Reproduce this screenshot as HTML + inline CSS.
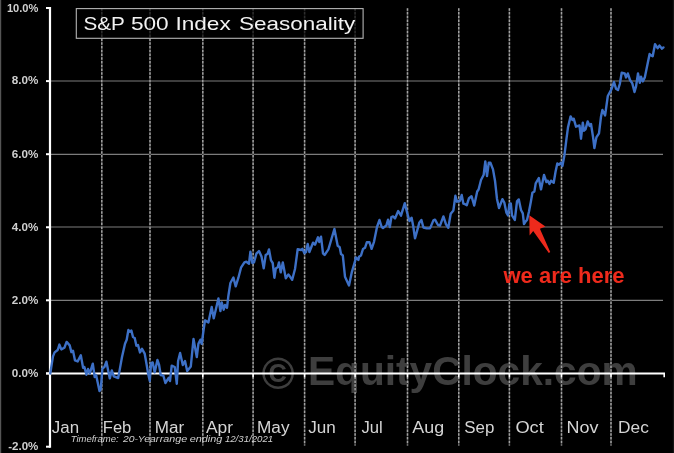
<!DOCTYPE html>
<html><head><meta charset="utf-8"><title>S&amp;P 500 Index Seasonality</title>
<style>
html,body{margin:0;padding:0;background:#000;}
body{width:674px;height:453px;overflow:hidden;font-family:"Liberation Sans",sans-serif;}
svg{display:block;filter:blur(0.45px);}
text{font-family:"Liberation Sans",sans-serif;}
</style></head><body>
<svg width="674" height="453" viewBox="0 0 674 453">
<rect x="0" y="0" width="674" height="453" fill="#000"/>
<rect x="0" y="0" width="1.2" height="453" fill="#555"/>
<rect x="672.8" y="0" width="1.2" height="453" fill="#141414"/>
<text x="261.6" y="388.8" font-size="45" font-weight="bold" fill="#3e3e3e">©</text>
<text x="308" y="385" font-size="40" font-weight="bold" fill="#3e3e3e" textLength="329.6" lengthAdjust="spacingAndGlyphs">EquityClock.com</text>
<line x1="51" y1="81.0" x2="663" y2="81.0" stroke="#7c7c7c" stroke-width="1.1"/>
<line x1="51" y1="154.4" x2="663" y2="154.4" stroke="#7c7c7c" stroke-width="1.1"/>
<line x1="51" y1="227.05" x2="663" y2="227.05" stroke="#7c7c7c" stroke-width="1.1"/>
<line x1="51" y1="300.4" x2="663" y2="300.4" stroke="#7c7c7c" stroke-width="1.1"/>
<line x1="101.8" y1="8.3" x2="101.8" y2="445.5" stroke="#2c2c2c" stroke-width="1.5"/>
<line x1="101.8" y1="8.3" x2="101.8" y2="445.5" stroke="#a2a2a2" stroke-width="1.5" stroke-dasharray="2.5 1.26"/>
<line x1="150.0" y1="8.3" x2="150.0" y2="445.5" stroke="#2c2c2c" stroke-width="1.5"/>
<line x1="150.0" y1="8.3" x2="150.0" y2="445.5" stroke="#a2a2a2" stroke-width="1.5" stroke-dasharray="2.5 1.26"/>
<line x1="202.8" y1="8.3" x2="202.8" y2="445.5" stroke="#2c2c2c" stroke-width="1.5"/>
<line x1="202.8" y1="8.3" x2="202.8" y2="445.5" stroke="#a2a2a2" stroke-width="1.5" stroke-dasharray="2.5 1.26"/>
<line x1="253.1" y1="8.3" x2="253.1" y2="445.5" stroke="#2c2c2c" stroke-width="1.5"/>
<line x1="253.1" y1="8.3" x2="253.1" y2="445.5" stroke="#a2a2a2" stroke-width="1.5" stroke-dasharray="2.5 1.26"/>
<line x1="304.6" y1="8.3" x2="304.6" y2="445.5" stroke="#2c2c2c" stroke-width="1.5"/>
<line x1="304.6" y1="8.3" x2="304.6" y2="445.5" stroke="#a2a2a2" stroke-width="1.5" stroke-dasharray="2.5 1.26"/>
<line x1="355.1" y1="8.3" x2="355.1" y2="445.5" stroke="#2c2c2c" stroke-width="1.5"/>
<line x1="355.1" y1="8.3" x2="355.1" y2="445.5" stroke="#a2a2a2" stroke-width="1.5" stroke-dasharray="2.5 1.26"/>
<line x1="407.5" y1="8.3" x2="407.5" y2="445.5" stroke="#2c2c2c" stroke-width="1.5"/>
<line x1="407.5" y1="8.3" x2="407.5" y2="445.5" stroke="#a2a2a2" stroke-width="1.5" stroke-dasharray="2.5 1.26"/>
<line x1="458.75" y1="8.3" x2="458.75" y2="445.5" stroke="#2c2c2c" stroke-width="1.5"/>
<line x1="458.75" y1="8.3" x2="458.75" y2="445.5" stroke="#a2a2a2" stroke-width="1.5" stroke-dasharray="2.5 1.26"/>
<line x1="509.4" y1="8.3" x2="509.4" y2="445.5" stroke="#2c2c2c" stroke-width="1.5"/>
<line x1="509.4" y1="8.3" x2="509.4" y2="445.5" stroke="#a2a2a2" stroke-width="1.5" stroke-dasharray="2.5 1.26"/>
<line x1="561.5" y1="8.3" x2="561.5" y2="445.5" stroke="#2c2c2c" stroke-width="1.5"/>
<line x1="561.5" y1="8.3" x2="561.5" y2="445.5" stroke="#a2a2a2" stroke-width="1.5" stroke-dasharray="2.5 1.26"/>
<line x1="611.0" y1="8.3" x2="611.0" y2="445.5" stroke="#2c2c2c" stroke-width="1.5"/>
<line x1="611.0" y1="8.3" x2="611.0" y2="445.5" stroke="#a2a2a2" stroke-width="1.5" stroke-dasharray="2.5 1.26"/>
<line x1="46" y1="373.5" x2="665" y2="373.5" stroke="#fff" stroke-width="2"/>
<line x1="101.8" y1="373.5" x2="101.8" y2="377.3" stroke="#fff" stroke-width="1.6"/>
<line x1="150.0" y1="373.5" x2="150.0" y2="377.3" stroke="#fff" stroke-width="1.6"/>
<line x1="202.8" y1="373.5" x2="202.8" y2="377.3" stroke="#fff" stroke-width="1.6"/>
<line x1="253.1" y1="373.5" x2="253.1" y2="377.3" stroke="#fff" stroke-width="1.6"/>
<line x1="304.6" y1="373.5" x2="304.6" y2="377.3" stroke="#fff" stroke-width="1.6"/>
<line x1="355.1" y1="373.5" x2="355.1" y2="377.3" stroke="#fff" stroke-width="1.6"/>
<line x1="407.5" y1="373.5" x2="407.5" y2="377.3" stroke="#fff" stroke-width="1.6"/>
<line x1="458.75" y1="373.5" x2="458.75" y2="377.3" stroke="#fff" stroke-width="1.6"/>
<line x1="509.4" y1="373.5" x2="509.4" y2="377.3" stroke="#fff" stroke-width="1.6"/>
<line x1="561.5" y1="373.5" x2="561.5" y2="377.3" stroke="#fff" stroke-width="1.6"/>
<line x1="611.0" y1="373.5" x2="611.0" y2="377.3" stroke="#fff" stroke-width="1.6"/>
<line x1="664.2" y1="373.5" x2="664.2" y2="377.3" stroke="#fff" stroke-width="1.6"/>
<line x1="50" y1="7" x2="50" y2="447.7" stroke="#fff" stroke-width="2.2"/>
<line x1="46" y1="8" x2="50" y2="8" stroke="#fff" stroke-width="2"/>
<line x1="46" y1="81.1" x2="50" y2="81.1" stroke="#fff" stroke-width="2"/>
<line x1="46" y1="154.2" x2="50" y2="154.2" stroke="#fff" stroke-width="2"/>
<line x1="46" y1="227.25" x2="50" y2="227.25" stroke="#fff" stroke-width="2"/>
<line x1="46" y1="300.3" x2="50" y2="300.3" stroke="#fff" stroke-width="2"/>
<line x1="46" y1="373.4" x2="50" y2="373.4" stroke="#fff" stroke-width="2"/>
<line x1="46" y1="446.7" x2="50" y2="446.7" stroke="#fff" stroke-width="2"/>
<text x="6.90" y="12.0" font-size="11.8" font-weight="bold" fill="#d0d0d0" textLength="31.50" lengthAdjust="spacingAndGlyphs">10.0%</text>
<text x="11.80" y="84.39999999999999" font-size="11.8" font-weight="bold" fill="#d0d0d0" textLength="26.60" lengthAdjust="spacingAndGlyphs">8.0%</text>
<text x="11.80" y="157.5" font-size="11.8" font-weight="bold" fill="#d0d0d0" textLength="26.60" lengthAdjust="spacingAndGlyphs">6.0%</text>
<text x="11.80" y="230.55" font-size="11.8" font-weight="bold" fill="#d0d0d0" textLength="26.60" lengthAdjust="spacingAndGlyphs">4.0%</text>
<text x="11.80" y="303.6" font-size="11.8" font-weight="bold" fill="#d0d0d0" textLength="26.60" lengthAdjust="spacingAndGlyphs">2.0%</text>
<text x="11.80" y="376.7" font-size="11.8" font-weight="bold" fill="#d0d0d0" textLength="26.60" lengthAdjust="spacingAndGlyphs">0.0%</text>
<text x="8.20" y="450.0" font-size="11.8" font-weight="bold" fill="#d0d0d0" textLength="30.20" lengthAdjust="spacingAndGlyphs">-2.0%</text>
<polygon points="529.3,215.3 545.4,226.6 539.9,228.7 550.2,252.0 548.8,253.0 533.2,231.1 529.6,235.4" fill="#ee2a1c"/>
<polyline points="50.3,373.5 51.7,364.4 53.0,356.4 54.6,352.4 57.7,350 59.4,344.6 61.3,349.4 64.4,347.7 66.6,341.9 69.7,345.4 71.4,352.1 73.0,350.8 75.0,360.4 77.7,361.4 80.8,355.3 83.1,367.7 84.4,367 86.4,374.8 88.0,369 89.7,373.7 92.8,363.7 94.7,377 96.1,375 99.5,391 100.8,389 102.4,368.4 104.4,367 106.4,361.7 109.8,378.4 111.8,370.4 113.8,376.4 118.2,378 119.6,370.4 122,357 125,343.7 126.7,339.7 128.4,330 129.8,331.7 131.4,330.6 133,337 134.7,338 136.4,345.7 138,345 140,352.4 142,348.8 144.7,353.7 146.7,365 148,373 149.8,381 151.1,363 152.7,362.4 154.7,372.4 157.4,360 159.1,365 160.7,375 163.4,375.7 165.4,383 168.8,377.7 170,381 171.7,365.7 174.8,367 176.8,383.8 178.1,361 180.1,353 182.8,365 185,361 187.2,371 190.8,366.4 193.5,339 196.8,357 198.4,343.8 200.4,339.7 201.7,343.8 203.7,329 205,320.4 208.4,322.4 211.7,307 213.7,318.4 218.4,298.4 220.4,311 221.7,302.4 223.7,309.7 225,305 227,307.7 228.4,295.7 230.4,283 233.4,277.5 235.7,286.4 238.4,277.7 241,267.7 244.4,262.4 246.4,261.7 249,263.7 250.4,251.7 252.4,263 254,262.4 256.4,253.7 259,251 261.5,256.4 263.7,268.4 265.7,255 267.7,253.7 269,249.4 271,260.4 272.7,263 274.4,277.7 275.8,268.4 277.8,267 279,262.4 280.7,272.4 282.8,262.4 285.8,278.4 288.4,274.4 292.2,279.7 295,269 297.7,249.2 301,250 302.4,248.8 304.4,253.2 306,252 307.7,244 309.4,252 313,242.7 315,244.7 318,237.3 319.3,242 321,236.7 323,253.4 324.6,255 328.4,249.4 334.4,229 337.7,245.8 339.7,247.2 341,254 342.8,255.4 345,276.7 349,285.4 351.7,272.7 355,261.4 355.8,257.4 358.4,260 359,256.7 361,255.4 363,249 365,247.8 366.8,242.3 369.5,242.3 371.6,248.8 374,241.8 377,227 379.5,220 381.7,227 383,228 386.4,225.4 388,219.7 389.8,227 391.4,217 393,216.4 395,218.4 398.2,211 401,215.7 404.8,203.2 407.2,213 409.5,221 411.6,217.7 413.2,226 415,238.4 416.7,232.4 419.4,222.4 421.4,220 423.4,227.5 426.7,228.4 430,228.4 433.4,220.4 435,219.7 438,225 440,225.7 443.4,216.4 446,224.4 448.3,227.7 450.7,213.7 453.4,210.4 455.4,195.7 457,201.7 459.8,201 461.7,195 463.4,203.7 465.4,204.4 466.8,205.2 469,198.2 471.5,196.2 474.2,205.5 477.2,191.5 478.6,189.5 481,180 483.7,174.7 485.3,161.4 487,176 488.8,162.7 490.4,162.7 493,169.4 495,180.7 497,199 499,208 502.4,199.2 504.3,202.5 506.4,212.7 508,215.4 509.4,204 510.8,203.4 512,215.4 514.8,220 517,201.4 518.8,199.4 521,210 522.8,213.4 524,224 525.7,221.4 527,220 529,211.4 530.8,202 532.4,192.7 534.4,191.4 535.7,183.4 538.8,178 541,189.4 544,175 546.4,182 547.7,180.7 549.5,184 551,180.7 553.7,182.7 555.5,172 557.3,163.4 559,164.7 560.8,162.7 562.4,166 564.4,155.4 566.4,139.4 568,127.4 570.6,116.4 572.4,120 573.7,118.7 576,126.7 579.5,125.4 581,138.7 582.8,122.7 584,130.7 585.5,129.4 587.7,121.4 589.7,126 591,124 593,136.7 594.4,148 596.4,137.4 599,133.4 601,116.7 602.4,110 605.1,115.4 607.8,96 611.4,89.4 614,82 616,88.7 618,90 619.8,84 621.7,72.7 624.7,73.4 626,77.4 627.8,73.4 630,80 632.3,83.4 634.5,92 636,86.7 638,73.4 639.8,82.7 641,76.7 642.8,81.4 644.8,77.4 649.6,54 651,55.4 652.7,56.3 655,44.2 657.6,48.2 659.4,45.6 662,48.7 663.4,47.4" fill="none" stroke="#3d70c6" stroke-width="2.4" stroke-linejoin="round" stroke-linecap="round"/>
<text x="51.80" y="432.8" font-size="15.6" fill="#d4d4d4" textLength="27.30" lengthAdjust="spacingAndGlyphs" >Jan</text>
<text x="102.80" y="432.8" font-size="15.6" fill="#d4d4d4" textLength="28.50" lengthAdjust="spacingAndGlyphs" >Feb</text>
<text x="154.70" y="432.8" font-size="15.6" fill="#d4d4d4" textLength="29.40" lengthAdjust="spacingAndGlyphs" >Mar</text>
<text x="206.00" y="432.8" font-size="15.6" fill="#d4d4d4" textLength="27.10" lengthAdjust="spacingAndGlyphs" >Apr</text>
<text x="257.00" y="432.8" font-size="15.6" fill="#d4d4d4" textLength="32.50" lengthAdjust="spacingAndGlyphs" >May</text>
<text x="308.20" y="432.8" font-size="15.6" fill="#d4d4d4" textLength="27.60" lengthAdjust="spacingAndGlyphs" >Jun</text>
<text x="361.40" y="432.8" font-size="15.6" fill="#d4d4d4" textLength="21.30" lengthAdjust="spacingAndGlyphs" >Jul</text>
<text x="412.30" y="432.8" font-size="15.6" fill="#d4d4d4" textLength="31.80" lengthAdjust="spacingAndGlyphs" >Aug</text>
<text x="464.20" y="432.8" font-size="15.6" fill="#d4d4d4" textLength="30.10" lengthAdjust="spacingAndGlyphs" >Sep</text>
<text x="515.40" y="432.8" font-size="15.6" fill="#d4d4d4" textLength="28.40" lengthAdjust="spacingAndGlyphs" >Oct</text>
<text x="566.50" y="432.8" font-size="15.6" fill="#d4d4d4" textLength="31.90" lengthAdjust="spacingAndGlyphs" >Nov</text>
<text x="618.00" y="432.8" font-size="15.6" fill="#d4d4d4" textLength="30.80" lengthAdjust="spacingAndGlyphs" >Dec</text>
<text x="70.70" y="441.5" font-size="8.7" fill="#d0d0d0" textLength="48.00" lengthAdjust="spacingAndGlyphs" font-style="italic">Timeframe:</text>
<text x="122.90" y="441.5" font-size="8.7" fill="#d0d0d0" textLength="36.20" lengthAdjust="spacingAndGlyphs" font-style="italic">20-Year</text>
<text x="159.70" y="441.5" font-size="8.7" fill="#d0d0d0" textLength="27.50" lengthAdjust="spacingAndGlyphs" font-style="italic">range</text>
<text x="189.70" y="441.5" font-size="8.7" fill="#d0d0d0" textLength="32.60" lengthAdjust="spacingAndGlyphs" font-style="italic">ending</text>
<text x="224.90" y="441.5" font-size="8.7" fill="#d0d0d0" textLength="48.30" lengthAdjust="spacingAndGlyphs" font-style="italic">12/31/2021</text>
<rect x="76.3" y="8.6" width="286.8" height="29.7" fill="#000" fill-opacity="0.72" stroke="#b4b4b4" stroke-width="1.1"/>
<text x="83.50" y="29.8" font-size="18.5" fill="#f2f2f2" textLength="41.40" lengthAdjust="spacingAndGlyphs" >S&amp;P</text>
<text x="130.90" y="29.8" font-size="18.5" fill="#f2f2f2" textLength="37.80" lengthAdjust="spacingAndGlyphs" >500</text>
<text x="175.40" y="29.8" font-size="18.5" fill="#f2f2f2" textLength="55.30" lengthAdjust="spacingAndGlyphs" >Index</text>
<text x="239.10" y="29.8" font-size="18.5" fill="#f2f2f2" textLength="116.10" lengthAdjust="spacingAndGlyphs" >Seasonality</text>
<text x="503.4" y="282.5" font-size="21.7" font-weight="bold" fill="#ee2a1c" textLength="121.2" lengthAdjust="spacingAndGlyphs">we are here</text>
</svg>
</body></html>
